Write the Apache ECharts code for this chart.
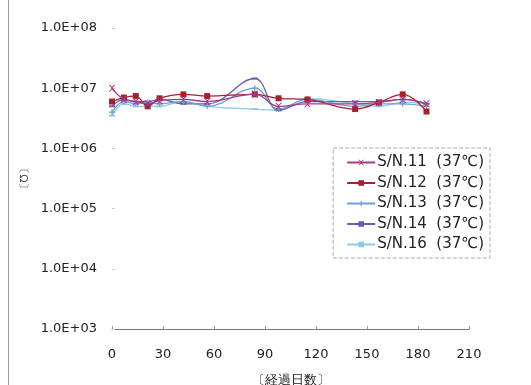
<!DOCTYPE html>
<html><head><meta charset="utf-8">
<script src="https://cdn.jsdelivr.net/npm/echarts@6/dist/echarts.min.js"></script>
<style>html,body{margin:0;padding:0;background:#fff}#c{width:531px;height:385px}</style>
</head><body><div id="c"></div>
<script>
const days = [0, 7, 14, 21, 28, 42, 56, 84, 98, 115, 143, 157, 171, 185];
const sn11 = [1.0e7, 6.5e6, 6.0e6, 5.5e6, 6.2e6, 6.5e6, 6.0e6, 8.0e6, 5.0e6, 5.5e6, 5.5e6, 5.8e6, 6.5e6, 5.5e6];
const sn12 = [6.0e6, 7.0e6, 7.4e6, 5.0e6, 6.8e6, 7.9e6, 7.4e6, 7.9e6, 6.8e6, 6.5e6, 4.5e6, 5.8e6, 7.9e6, 4.1e6];
const sn13 = [4.0e6, 6.0e6, 5.5e6, 5.8e6, 5.5e6, 6.0e6, 5.0e6, 1.0e7, 4.5e6, 6.5e6, 5.0e6, 5.5e6, 5.5e6, 5.0e6];
const sn14 = [5.0e6, 6.5e6, 6.0e6, 6.0e6, 6.5e6, 5.5e6, 5.5e6, 1.45e7, 4.3e6, 6.0e6, 6.0e6, 6.0e6, 6.5e6, 5.5e6];
const sn16 = [3.5e6, 5.5e6, 5.0e6, 5.0e6, 5.0e6, 6.0e6, 5.0e6, 4.5e6, 4.3e6, 6.8e6, 5.5e6, 5.0e6, 5.8e6, 5.5e6];
const seriesNames = ['S/N.11 (37℃)', 'S/N.12 (37℃)', 'S/N.13 (37℃)', 'S/N.14 (37℃)', 'S/N.16 (37℃)'];
const xTicks = [0, 30, 60, 90, 120, 150, 180, 210];
const xName = '〔経過日数〕';
const yName = '〔Ω〕';

const FONT = 'DejaVu Sans';
const crossSym = 'path://M0,0L2,0L5,3L8,0L10,0L6,4L6,6L10,10L8,10L5,7L2,10L0,10L4,6L4,4Z';
const plusSym = 'path://M4,0H6V4H10V6H6V10H4V6H0V4H4Z';
const styles = [
  {data: sn11, color: '#a83a86', symbol: crossSym, size: 7},
  {data: sn12, color: '#a2232f', symbol: 'rect', size: 6},
  {data: sn13, color: '#6d9fd6', symbol: plusSym, size: 6},
  {data: sn14, color: '#6a5cb0', symbol: 'rect', size: [6,2]},
  {data: sn16, color: '#8ccbe8', symbol: 'rect', size: [6,2]}
];
const series = styles.map((s, i) => ({
  name: seriesNames[i],
  type: 'line',
  smooth: 0.4,
  data: days.map((d, j) => [d, s.data[j]]),
  symbol: s.symbol,
  symbolSize: s.size,
  showSymbol: true,
  lineStyle: {color: s.color, width: 1.3},
  itemStyle: {color: s.color, borderWidth: 0},
  z: 5 - i
}));

const chart = echarts.init(document.getElementById('c'), null, {renderer: 'canvas'});
chart.setOption({
  animation: false,
  backgroundColor: '#fff',
  grid: {left: 112, right: 62, top: 28, bottom: 56, outerBoundsMode: 'none', containLabel: false},
  legend: {
    right: 41, top: 148, orient: 'vertical',
    backgroundColor: '#fff',
    borderColor: '#aaa', borderWidth: 1, borderType: 'dashed',
    padding: [7, 6, 6, 13],
    itemWidth: 28, itemHeight: 7, itemGap: 5.5,
    textStyle: {fontFamily: FONT, fontSize: 15, color: '#222', padding: [0, 0, 0, -3]},
    data: seriesNames,
    formatter: n => n.replace(' ', '  ')
  },
  xAxis: {
    type: 'value', min: 0, max: 210, interval: 30,
    name: xName, nameLocation: 'middle', nameGap: 45,
    nameTextStyle: {fontFamily: FONT, fontSize: 13, color: '#222'},
    axisLine: {lineStyle: {color: '#777', width: 1}},
    axisTick: {show: true, inside: true, length: 3, lineStyle: {color: '#999'}},
    splitLine: {show: false},
    axisLabel: {fontFamily: FONT, fontSize: 13, color: '#222', margin: 19,
      formatter: v => xTicks.includes(v) ? String(v) : ''}
  },
  yAxis: {
    type: 'log', logBase: 10, min: 1e3, max: 1e8,
    name: yName, nameLocation: 'middle', nameGap: 84, nameRotate: 270,
    nameTextStyle: {fontFamily: FONT, fontSize: 11, color: '#444'},
    axisLine: {show: false},
    axisTick: {show: true, inside: true, length: 3, lineStyle: {color: '#ccc'}},
    splitLine: {show: false},
    axisLabel: {fontFamily: FONT, fontSize: 13, color: '#222', margin: 15,
      formatter: v => '1.0E+0' + Math.round(Math.log10(v))}
  },
  graphic: [{type: 'line', shape: {x1: 8.5, y1: 0, x2: 8.5, y2: 385}, style: {stroke: '#999', lineWidth: 1}}],
  series: series
});
</script></body></html>
